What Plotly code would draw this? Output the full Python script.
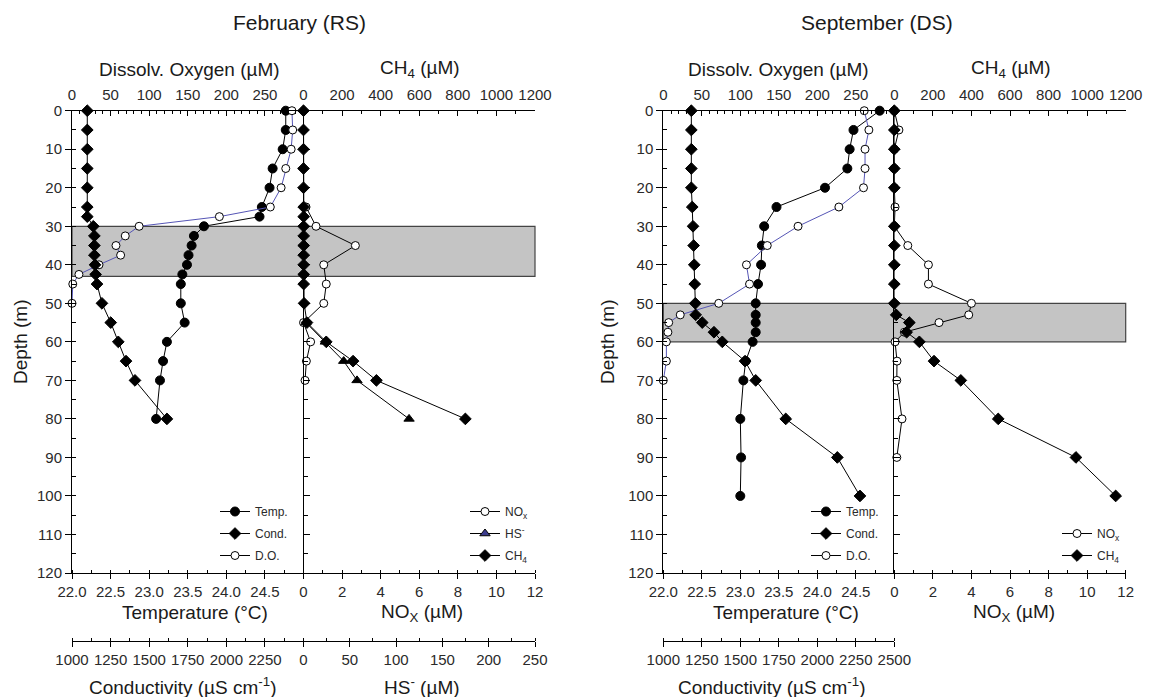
import plotly.graph_objects as go

# ---------------- data: February (RS) ----------------
feb_depth = [0, 5, 10, 15, 20, 25, 27.5, 30, 32.5, 35, 37.5, 40, 42.5, 45, 50, 55, 60, 65, 70, 80]
feb_temp = [24.77, 24.77, 24.73, 24.60, 24.56, 24.46, 24.43, 23.71, 23.58, 23.55, 23.51, 23.49,
            23.43, 23.41, 23.41, 23.46, 23.23, 23.18, 23.14, 23.09]
feb_cond = [1099, 1099, 1099, 1099, 1099, 1099, 1099, 1138, 1145, 1145, 1145, 1149, 1153, 1162,
            1194, 1251, 1300, 1350, 1408, 1615]
feb_ch4 = [0, 0, 0, 0, 0, 1, 1, 1, 1, 1, 1, 1, 1, 1, 3, 18, 118, 257, 378, 839]

feb_do_depth = [0, 5, 10, 15, 20, 25, 27.5, 30, 32.5, 35, 37.5, 40, 42.5, 45, 50]
feb_do = [285, 286, 284, 277, 271, 257, 191, 87, 69, 57, 63, 35, 9, 1, 0]

feb_nox_depth = [25, 30, 35, 40, 45, 50, 55, 60, 65, 70]
feb_nox = [0.13, 0.65, 2.69, 1.05, 1.18, 1.05, 0.0, 0.37, 0.15, 0.08]

feb_hs_depth = [55, 60, 65, 70, 80]
feb_hs = [2.7, 23.6, 43.4, 57.8, 114]

feb_band = [30, 43]

# ---------------- data: September (DS) ----------------
sep_depth = [0, 5, 10, 15, 20, 25, 30, 35, 40, 45, 50, 53, 55, 57.5, 60, 65, 70, 80, 90, 100]
sep_temp = [24.81, 24.47, 24.42, 24.39, 24.10, 23.47, 23.31, 23.28, 23.27, 23.23, 23.20, 23.20,
            23.20, 23.20, 23.16, 23.07, 23.04, 23.00, 23.01, 23.00]
sep_cond = [1182, 1182, 1182, 1182, 1182, 1188, 1193, 1197, 1201, 1204, 1208, 1210, 1253, 1329,
            1383, 1531, 1600, 1795, 2130, 2277]

sep_do_depth = [0, 5, 10, 15, 20, 25, 30, 35, 40, 45, 50, 53, 55, 57.5, 60, 65, 70]
sep_do = [261, 267, 262, 262, 260, 228, 175, 135, 108, 112, 72, 22, 7, 6, 4, 4, 0]

sep_nox_depth = [0, 5, 10, 15, 20, 25, 30, 35, 40, 45, 50, 53, 55, 57.5, 60, 65, 70, 80, 90]
sep_nox = [0, 0.24, 0, 0, 0, 0.04, 0, 0.70, 1.77, 1.77, 4.0, 3.86, 2.32, 0.52, 0.04, 0.14, 0.13,
           0.40, 0.13]

sep_ch4_depth = [0, 5, 10, 15, 20, 30, 35, 40, 45, 50, 53, 55, 57.5, 60, 65, 70, 80, 90, 100]
sep_ch4 = [0, 0, 0, 0, 0, 0, 0, 0, 0, 0, 10, 78, 64, 130, 206, 345, 539, 942, 1148]

sep_band = [50, 60]

# ---------------- tick values ----------------
depth_ticks = list(range(0, 121, 10))
temp_ticks = [22.0, 22.5, 23.0, 23.5, 24.0, 24.5]
nox_ticks = list(range(0, 13, 2))
do_ticks = list(range(0, 251, 50))
ch4_ticks = list(range(0, 1201, 200))
feb_cond_ticks = list(range(1000, 2251, 250))
sep_cond_ticks = list(range(1000, 2501, 250))
hs_ticks = list(range(0, 251, 50))

# ---------------- page geometry (pixels) ----------------
W, H = 1149, 697
FONT = "Liberation Sans, Arial, Helvetica, sans-serif"
INK = "#1a1a1a"
TICK_INK = "#2a2a2a"
DO_LINE = "#5555b5"


def fx(px):
    return px / W


def fy(py):
    return 1 - py / H


Y_TOP, Y_BOT, Y_COND = 110.7, 573, 641
panels = {
    "feb": (72, 303.5, 535),
    "sep": (663.3, 894.3, 1125.7),
}

fig = go.Figure()
layout_axes = {}
_next_x = [12]
_next_y = [5]


def base_x(domain, anchor, rng, ticks, fmt, minor, side="bottom", overlaying=None,
           free_pos=None, tickdir="outside", ticklen=5, standoff=None):
    ax = dict(
        range=rng, side=side, showline=True, linecolor="black", linewidth=1,
        showgrid=False, zeroline=False, tickmode="array", tickvals=ticks,
        ticktext=[fmt.format(t) for t in ticks], ticks=tickdir, ticklen=ticklen,
        tickwidth=1, tickcolor="black", automargin=False,
        tickfont=dict(family=FONT, size=15, color=TICK_INK),
        minor=dict(tickmode="linear", tick0=rng[0], dtick=minor, ticks="inside",
                   ticklen=3, tickwidth=1, tickcolor="black", showgrid=False),
        fixedrange=True,
    )
    if standoff is not None:
        ax["ticklabelstandoff"] = standoff
    if overlaying:
        ax["overlaying"] = overlaying
    else:
        ax["domain"] = domain
    if free_pos is not None:
        ax["anchor"] = "free"
        ax["position"] = free_pos
    else:
        ax["anchor"] = anchor
    return ax


def x_twin(base_ref, ax, tickdir, ticklen):
    """Tick-only copy of an x axis, so major ticks cross the axis line."""
    name = "xaxis%d" % _next_x[0]
    _next_x[0] += 1
    tw = dict(
        overlaying=base_ref, range=ax["range"], side=ax["side"], showline=False,
        showgrid=False, zeroline=False, tickmode="array", tickvals=ax["tickvals"],
        ticks=tickdir, ticklen=ticklen, tickwidth=1, tickcolor="black",
        showticklabels=False, automargin=False, fixedrange=True,
    )
    if ax.get("anchor") == "free":
        tw["anchor"] = "free"
        tw["position"] = ax["position"]
    else:
        tw["anchor"] = ax["anchor"]
    layout_axes[name] = tw


def base_y(anchor, labels, tickdir):
    return dict(
        domain=[fy(Y_BOT), fy(Y_TOP)], anchor=anchor, range=[120, 0],
        showline=True, linecolor="black", linewidth=1, showgrid=False, zeroline=False,
        tickmode="array", tickvals=depth_ticks, ticks=tickdir, ticklen=6, tickwidth=1,
        tickcolor="black", showticklabels=labels, automargin=False,
        tickfont=dict(family=FONT, size=15, color=TICK_INK),
        minor=dict(tickmode="linear", tick0=0, dtick=5, ticks="inside", ticklen=4,
                   tickwidth=1, tickcolor="black", showgrid=False),
        fixedrange=True,
    )


def y_twin(base_ref, anchor):
    name = "yaxis%d" % _next_y[0]
    _next_y[0] += 1
    layout_axes[name] = dict(
        overlaying=base_ref, anchor=anchor, side="left", range=[120, 0], showline=False,
        showgrid=False, zeroline=False, tickmode="array", tickvals=depth_ticks,
        ticks="outside", ticklen=5, tickwidth=1, tickcolor="black", showticklabels=False,
        automargin=False, fixedrange=True,
    )


# February axes
fl, fm, fr = panels["feb"]
layout_axes["xaxis"] = base_x([fx(fl), fx(fm)], "y", [22, 25], temp_ticks, "{:.1f}", 0.25)
layout_axes["xaxis2"] = base_x([fx(fm), fx(fr)], "y2", [0, 12], nox_ticks, "{:d}", 1)
layout_axes["xaxis3"] = base_x(None, "y", [0, 300], do_ticks, "{:d}", 10, side="top",
                               overlaying="x", tickdir="inside", ticklen=5, standoff=4)
layout_axes["xaxis4"] = base_x(None, "y2", [0, 1200], ch4_ticks, "{:d}", 100, side="top",
                               overlaying="x2", tickdir="inside", ticklen=5, standoff=4)
layout_axes["xaxis5"] = base_x(None, None, [1000, 2500], feb_cond_ticks, "{:d}", 125,
                               overlaying="x", free_pos=fy(Y_COND))
layout_axes["xaxis6"] = base_x(None, None, [0, 250], hs_ticks, "{:d}", 25,
                               overlaying="x2", free_pos=fy(Y_COND))
layout_axes["yaxis"] = base_y("x", True, "outside")
layout_axes["yaxis2"] = base_y("x2", False, "inside")

# September axes
sl, sm, sr = panels["sep"]
layout_axes["xaxis7"] = base_x([fx(sl), fx(sm)], "y3", [22, 25], temp_ticks, "{:.1f}", 0.25)
layout_axes["xaxis8"] = base_x([fx(sm), fx(sr)], "y4", [0, 12], nox_ticks, "{:d}", 1)
layout_axes["xaxis9"] = base_x(None, "y3", [0, 300], do_ticks, "{:d}", 10, side="top",
                               overlaying="x7", tickdir="inside", ticklen=5, standoff=4)
layout_axes["xaxis10"] = base_x(None, "y4", [0, 1200], ch4_ticks, "{:d}", 100, side="top",
                                overlaying="x8", tickdir="inside", ticklen=5, standoff=4)
layout_axes["xaxis11"] = base_x(None, None, [1000, 2500], sep_cond_ticks, "{:d}", 125,
                                overlaying="x7", free_pos=fy(Y_COND))
layout_axes["yaxis3"] = base_y("x7", True, "outside")
layout_axes["yaxis4"] = base_y("x8", False, "inside")

# Crossing major ticks: short ticks on the opposite side of each axis line
for key, base, d, ln in [
    ("xaxis", "x", "inside", 4), ("xaxis2", "x2", "inside", 4),
    ("xaxis3", "x", "outside", 3), ("xaxis4", "x2", "outside", 3),
    ("xaxis5", "x", "inside", 4), ("xaxis6", "x2", "inside", 4),
    ("xaxis7", "x7", "inside", 4), ("xaxis8", "x8", "inside", 4),
    ("xaxis9", "x7", "outside", 3), ("xaxis10", "x8", "outside", 3),
    ("xaxis11", "x7", "inside", 4),
]:
    x_twin(base, layout_axes[key], d, ln)
y_twin("y2", "x2")
y_twin("y4", "x8")


def add_line(x, y, xa, ya, symbol, fill, line_color="black", size=9):
    fig.add_trace(go.Scatter(
        x=x, y=y, xaxis=xa, yaxis=ya, mode="lines+markers", cliponaxis=False,
        line=dict(color=line_color, width=1),
        marker=dict(symbol=symbol, size=size, color=fill, line=dict(color="black", width=1)),
        showlegend=False, hoverinfo="skip",
    ))


def add_key(name, symbol, fill, legend, line_color="black", size=9):
    fig.add_trace(go.Scatter(
        x=[None], y=[None], mode="lines+markers", name=name, legend=legend,
        legendgroup=name + legend,
        line=dict(color=line_color, width=1),
        marker=dict(symbol=symbol, size=size, color=fill, line=dict(color="black", width=1)),
        showlegend=True, hoverinfo="skip",
    ))


# February profiles
add_line(feb_temp, feb_depth, "x", "y", "circle", "black")
add_line(feb_cond, feb_depth, "x5", "y", "diamond", "black")
add_line(feb_do, feb_do_depth, "x3", "y", "circle", "white", line_color=DO_LINE, size=8)
add_line(feb_hs, feb_hs_depth, "x6", "y2", "triangle-up", "black")
add_line(feb_ch4, feb_depth, "x4", "y2", "diamond", "black")
add_line(feb_nox, feb_nox_depth, "x2", "y2", "circle", "white", size=8)

# September profiles
add_line(sep_temp, sep_depth, "x7", "y3", "circle", "black")
add_line(sep_cond, sep_depth, "x11", "y3", "diamond", "black")
add_line(sep_do, sep_do_depth, "x9", "y3", "circle", "white", line_color=DO_LINE, size=8)
add_line(sep_nox, sep_nox_depth, "x8", "y4", "circle", "white", size=8)
add_line(sep_ch4, sep_ch4_depth, "x10", "y4", "diamond", "black")

# Legend keys
add_key("Temp.", "circle", "black", "legend")
add_key("Cond.", "diamond", "black", "legend")
add_key("D.O.", "circle", "white", "legend", size=8)
add_key("NO<sub>x</sub>", "circle", "white", "legend2", size=8)
add_key("HS<sup>-</sup>", "triangle-up", "#3a3a8c", "legend2")
add_key("CH<sub>4</sub>", "diamond", "black", "legend2")
add_key("Temp.", "circle", "black", "legend3")
add_key("Cond.", "diamond", "black", "legend3")
add_key("D.O.", "circle", "white", "legend3", size=8)
add_key("NO<sub>x</sub>", "circle", "white", "legend4", size=8)
add_key("CH<sub>4</sub>", "diamond", "black", "legend4")


def legend_box(px, py):
    return dict(x=fx(px), y=fy(py), xanchor="left", yanchor="top", bgcolor="rgba(0,0,0,0)",
                borderwidth=0, tracegroupgap=3,
                font=dict(family=FONT, size=12, color=TICK_INK))


# Suboxic bands
shapes = [
    dict(type="rect", xref="paper", yref="y", x0=fx(fl), x1=fx(fr), y0=feb_band[0],
         y1=feb_band[1], fillcolor="#c4c4c4", line=dict(color="#444444", width=1.2),
         layer="below"),
    dict(type="rect", xref="paper", yref="y3", x0=fx(sl), x1=fx(sr), y0=sep_band[0],
         y1=sep_band[1], fillcolor="#c4c4c4", line=dict(color="#444444", width=1.2),
         layer="below"),
]


def label(text, px, py, size, angle=0):
    return dict(text=text, x=fx(px), y=fy(py), xref="paper", yref="paper", showarrow=False,
                xanchor="center", yanchor="middle", textangle=angle,
                font=dict(family=FONT, size=size, color=INK))


annotations = [
    label("February (RS)", 299, 22, 21),
    label("September (DS)", 877, 22, 21),
    label("Dissolv. Oxygen (µM)", 189, 69, 19),
    label("CH<sub>4</sub> (µM)", 420, 69, 19),
    label("Dissolv. Oxygen (µM)", 778, 69, 19),
    label("CH<sub>4</sub> (µM)", 1011, 69, 19),
    label("Depth (m)", 20, 342, 19, -90),
    label("Depth (m)", 607, 342, 19, -90),
    label("Temperature (°C)", 195, 612, 19),
    label("NO<sub>X</sub> (µM)", 422, 613, 19),
    label("Temperature (°C)", 786, 612, 19),
    label("NO<sub>X</sub> (µM)", 1014, 613, 19),
    label("Conductivity (µS cm<sup>-1</sup>)", 182, 686, 19),
    label("HS<sup>-</sup> (µM)", 422, 686, 19),
    label("Conductivity (µS cm<sup>-1</sup>)", 771, 686, 19),
]

fig.update_layout(
    width=W, height=H, margin=dict(l=0, r=0, t=0, b=0, pad=0, autoexpand=False),
    paper_bgcolor="white", plot_bgcolor="rgba(0,0,0,0)",
    font=dict(family=FONT, color=INK),
    shapes=shapes, annotations=annotations,
    legend=legend_box(215, 497),
    legend2=legend_box(465, 497),
    legend3=legend_box(806, 497),
    legend4=legend_box(1057, 519),
    **layout_axes,
)

fig.write_html("out.html")
